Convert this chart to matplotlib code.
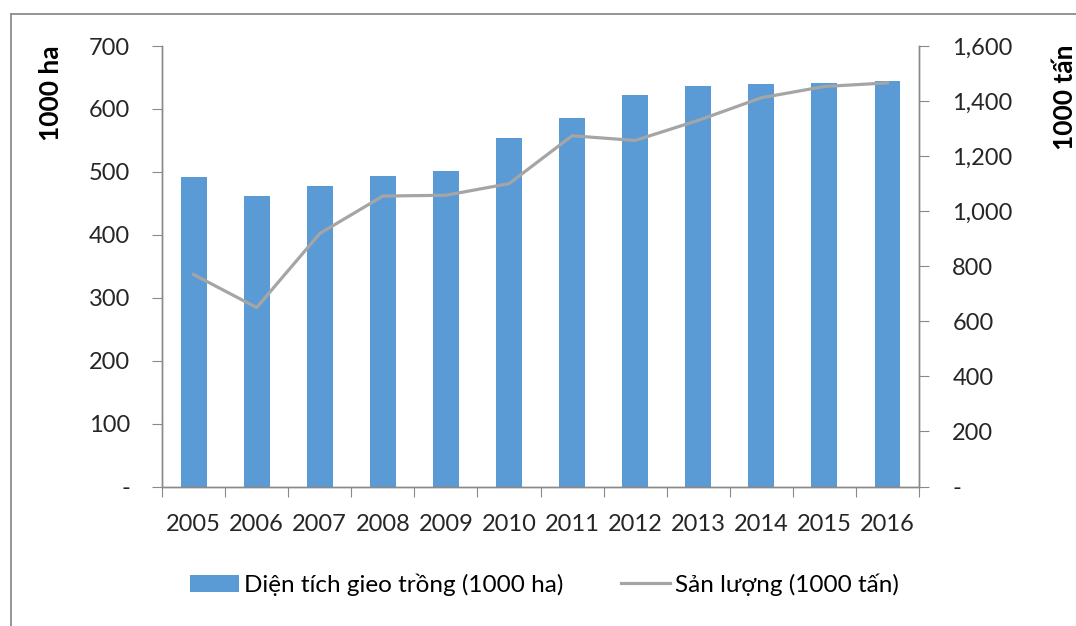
import matplotlib

matplotlib.use('Agg')
import matplotlib.pyplot as plt
from matplotlib.lines import Line2D
from matplotlib.ticker import FuncFormatter, MultipleLocator
import numpy as np

years = ["2005", "2006", "2007", "2008", "2009", "2010",
         "2011", "2012", "2013", "2014", "2015", "2016"]
area = [492, 462, 478, 494, 502, 554, 586, 622, 636, 640, 642, 644]
output = [770, 650, 919, 1055, 1058, 1100, 1274, 1257, 1330, 1412, 1453, 1466]

bar_label = "Diện tích gieo trồng (1000 ha)"
line_label = "Sản lượng (1000 tấn)"
left_title = "1000 ha"
right_title = "1000 tấn"

plt.rcParams['font.family'] = ['Lato', 'DejaVu Sans']
fs = 17
axis_gray = "#898989"
text_col = "#262626"

fig = plt.figure(figsize=(10.76, 6.26), dpi=100)
ax = fig.add_axes([0.1506, 0.2228, 0.7035, 0.7037])
ax2 = ax.twinx()

x = np.arange(len(years))
ax.bar(x, area, width=0.41, color="#5B9BD5", label=bar_label, zorder=2)
ax2.plot(x, output, color="#A5A5A5", lw=2.3, label=line_label, zorder=3)

ax.set_xlim(-0.5, len(years) - 0.5)
ax.set_ylim(0, 700)
ax2.set_ylim(0, 1600)
ax.yaxis.set_major_locator(MultipleLocator(100))
ax2.yaxis.set_major_locator(MultipleLocator(200))

ax.yaxis.set_major_formatter(FuncFormatter(lambda v, p: "-" if v == 0 else "%d" % v))
ax2.yaxis.set_major_formatter(FuncFormatter(lambda v, p: "-" if v == 0 else "{:,.0f}".format(v)))

# ticks sit between categories, labels under the bars
ax.set_xticks(np.arange(-0.5, len(years), 1), minor=False)
ax.set_xticklabels([])
ax.set_xticks(x, minor=True)
ax.set_xticklabels(years, minor=True)
ax.tick_params(axis='x', which='major', length=7, color=axis_gray, direction='out')
ax.tick_params(axis='x', which='minor', length=0, pad=20, labelsize=fs, labelcolor=text_col)
ax.tick_params(axis='y', length=7, color=axis_gray, pad=16, labelsize=fs, labelcolor=text_col)
ax2.tick_params(axis='y', length=7, color=axis_gray, pad=17, labelsize=fs, labelcolor=text_col)

for a in (ax, ax2):
    a.spines['top'].set_visible(False)
    for s in ('left', 'right', 'bottom'):
        a.spines[s].set_color(axis_gray)
        a.spines[s].set_linewidth(1.0)

ax.text(-0.147, 0.894, left_title, transform=ax.transAxes, rotation=90,
        ha='center', va='center', fontsize=19, fontweight='bold', color='black')
ax.text(1.193, 0.883, right_title, transform=ax.transAxes, rotation=90,
        ha='center', va='center', fontsize=19, fontweight='bold', color='black')

h1, l1 = ax.get_legend_handles_labels()
h2, l2 = ax2.get_legend_handles_labels()
fig.legend(h1 + h2, l1 + l2, loc='center', bbox_to_anchor=(0.506, 0.066), ncol=2,
           frameon=False, fontsize=17.5, handlelength=2.0, handletextpad=0.2,
           columnspacing=2.4, labelcolor='black')

# outer chart border (top and left are visible in the reference)
fig.add_artist(Line2D([11 / 1076, 1.0], [1 - 14 / 626, 1 - 14 / 626], color="#8c8c8c", lw=1.3))
fig.add_artist(Line2D([11 / 1076, 11 / 1076], [0.0, 1 - 14 / 626], color="#8c8c8c", lw=1.3))

fig.savefig("out.png", dpi=100)
